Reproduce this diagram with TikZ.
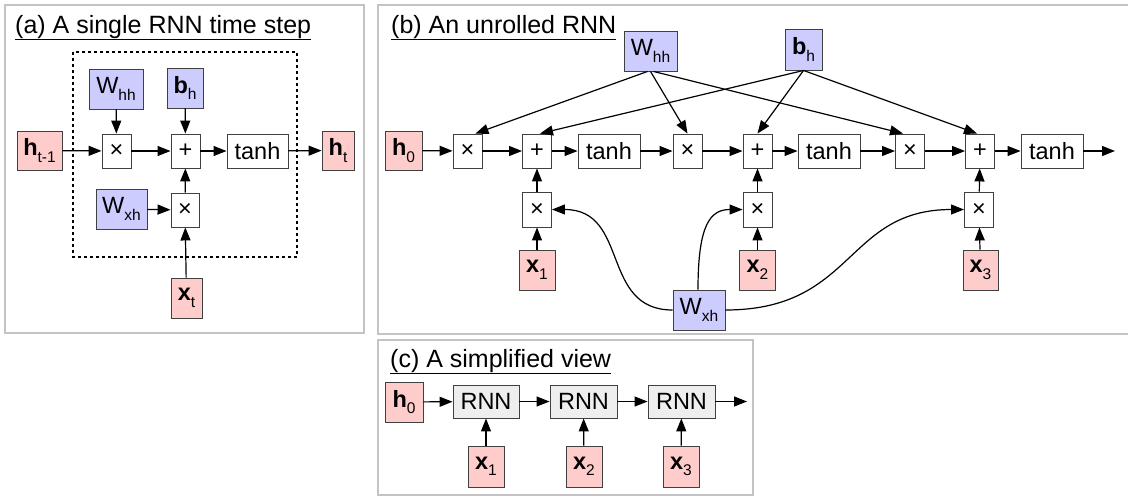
\documentclass[tikz,border=0pt]{standalone}
\usepackage{fontspec}
\setmainfont{Liberation Sans}
\usetikzlibrary{arrows.meta}
\definecolor{pinkf}{HTML}{FFCCCC}
\definecolor{bluef}{HTML}{CCCCFF}
\definecolor{grayf}{HTML}{EEEEEE}
\definecolor{panelc}{HTML}{C4C4C4}
\newcommand{\sbx}[1]{\raisebox{-6.5pt}{\fontsize{15.5}{15.5}\selectfont #1}}
\tikzset{
  bx/.style={draw=black!75, line width=0.9pt, inner sep=0pt, font=\fontsize{23.5}{23.5}\selectfont},
  opbox/.style={bx, fill=white, minimum width=29pt, minimum height=34pt},
  tanhbox/.style={bx, fill=white, minimum width=62pt, minimum height=34pt},
  inbox/.style={bx, fill=pinkf, minimum height=40pt},
  wbox/.style={bx, fill=bluef, minimum height=40pt},
  rnnbox/.style={bx, fill=grayf, minimum width=66pt, minimum height=33pt},
  conn/.style={draw=black, line width=1.2pt, -{Triangle[length=13pt,width=10pt]}},
  panel/.style={draw=panelc, line width=1.2pt},
  ttl/.style={anchor=base west, inner sep=0pt, font=\fontsize{25}{25}\selectfont}
}
\begin{document}
\begin{tikzpicture}[x=1pt,y=-1pt]
\useasboundingbox (0,0) rectangle (1128,496);
% panels
\draw[panel] (5,5) rectangle (364,333);
\draw[panel] (1130,5) -- (378,5) -- (378,334) -- (1130,334);
\draw[panel] (378,340) rectangle (753,495);
\node[ttl] (ta) at (15,33) {\underline{(a) A single RNN time step}};
\node[ttl] (tb) at (391,33) {\underline{(b) An unrolled RNN}};
\node[ttl] (tc) at (390,367) {\underline{(c) A simplified view}};

% ---------- panel a ----------
\draw[dashed, line width=1.1pt] (73,52) rectangle (297,257);
\node[wbox, minimum width=54pt] (Whha) at (116,89) {W\sbx{hh}};
\node[wbox, minimum width=36pt] (bha) at (185,88) {\textbf{b}\sbx{h}};
\node[inbox, minimum width=45pt, minimum height=39pt] (htm) at (39.5,150.5) {\textbf{h}\sbx{t-1}};
\node[opbox] (m1a) at (116.5,151) {×};
\node[opbox] (pa) at (185.5,151) {+};
\node[tanhbox, minimum width=61pt] (tha) at (257.5,151) {tanh};
\node[inbox, minimum width=32pt, minimum height=39pt] (hta) at (338,150.5) {\textbf{h}\sbx{t}};
\node[wbox, minimum width=51pt] (Wxha) at (121.5,209) {W\sbx{xh}};
\node[opbox, minimum width=28pt] (m2a) at (185,210) {×};
\node[inbox, minimum width=31pt] (xta) at (186.5,298) {\textbf{x}\sbx{t}};
\draw[conn] (htm) -- (m1a);
\draw[conn] (Whha) -- (m1a);
\draw[conn] (m1a) -- (pa);
\draw[conn] (bha) -- (pa);
\draw[conn] (pa) -- (tha);
\draw[conn] (tha) -- (hta);
\draw[conn] (Wxha) -- (m2a);
\draw[conn] (m2a) -- (pa);
\draw[conn] (xta) -- (m2a);

% ---------- panel b ----------
\node[wbox, minimum width=53pt] (Whhb) at (650.5,51) {W\sbx{hh}};
\node[wbox, minimum width=37pt, minimum height=41pt] (bhb) at (803.5,49.5) {\textbf{b}\sbx{h}};
\node[inbox, minimum width=37pt, minimum height=39pt] (h0b) at (403.5,150.5) {\textbf{h}\sbx{0}};
\node[opbox] (m1b) at (467.5,151) {×};
\node[opbox] (p1b) at (537,151) {+};
\node[tanhbox] (t1b) at (609,151) {tanh};
\node[opbox] (m2b) at (687.5,151) {×};
\node[opbox] (p2b) at (757.5,151) {+};
\node[tanhbox] (t2b) at (829,151) {tanh};
\node[opbox] (m3b) at (910,151) {×};
\node[opbox] (p3b) at (980,151) {+};
\node[tanhbox] (t3b) at (1052,151) {tanh};
\coordinate (endb) at (1115,151);
\node[opbox, minimum height=35pt] (q1b) at (537,209.5) {×};
\node[opbox, minimum height=35pt] (q2b) at (757.5,209.5) {×};
\node[opbox, minimum height=35pt] (q3b) at (979,209.5) {×};
\node[inbox, minimum width=36pt] (x1b) at (537,270) {\textbf{x}\sbx{1}};
\node[inbox, minimum width=36pt] (x2b) at (757.5,270) {\textbf{x}\sbx{2}};
\node[inbox, minimum width=35pt] (x3b) at (980.5,270) {\textbf{x}\sbx{3}};
\node[wbox, minimum width=52pt] (Wxhb) at (699,310) {W\sbx{xh}};

\draw[conn] (h0b) -- (m1b);
\draw[conn] (m1b) -- (p1b);
\draw[conn] (p1b) -- (t1b);
\draw[conn] (t1b) -- (m2b);
\draw[conn] (m2b) -- (p2b);
\draw[conn] (p2b) -- (t2b);
\draw[conn] (t2b) -- (m3b);
\draw[conn] (m3b) -- (p3b);
\draw[conn] (p3b) -- (t3b);
\draw[conn] (t3b) -- (endb);
\draw[conn] (q1b) -- (p1b);
\draw[conn] (q2b) -- (p2b);
\draw[conn] (q3b) -- (p3b);
\draw[conn] (x1b) -- (q1b);
\draw[conn] (x2b) -- (q2b);
\draw[conn] (x3b) -- (q3b);
\draw[conn] ([xshift=-3pt]Whhb.south) -- ([xshift=-7pt]m1b.north east);
\draw[conn] (Whhb.south) -- (m2b.north);
\draw[conn] ([xshift=3pt]Whhb.south) -- ([xshift=-7pt]m3b.north);
\draw[conn] (bhb.south) -- ([xshift=3pt]p1b.north);
\draw[conn] (bhb.south) -- (p2b.north);
\draw[conn] (bhb.south) -- ([xshift=-3pt]p3b.north);
\draw[conn] (Wxhb.west) .. controls (600,310) and (630,209.5) .. (q1b.east);
\draw[conn] ([xshift=-1pt]Wxhb.north) .. controls (698,225) and (710,209.5) .. (q2b.west);
\draw[conn] (Wxhb.east) .. controls (855,310) and (845,209.5) .. (q3b.west);

% ---------- panel c ----------
\node[inbox, minimum width=38pt] (h0c) at (404,402) {\textbf{h}\sbx{0}};
\node[rnnbox] (r1) at (486,401.5) {RNN};
\node[rnnbox, minimum width=67pt] (r2) at (583.5,401.5) {RNN};
\node[rnnbox, minimum width=67pt] (r3) at (681.5,401.5) {RNN};
\coordinate (endc) at (747,401.5);
\node[inbox, minimum width=36pt, minimum height=41pt] (x1c) at (486,466.5) {\textbf{x}\sbx{1}};
\node[inbox, minimum width=36pt, minimum height=41pt] (x2c) at (584,466.5) {\textbf{x}\sbx{2}};
\node[inbox, minimum width=36pt, minimum height=41pt] (x3c) at (681,466.5) {\textbf{x}\sbx{3}};
\draw[conn] (h0c) -- (r1);
\draw[conn] (r1) -- (r2);
\draw[conn] (r2) -- (r3);
\draw[conn] (r3) -- (endc);
\draw[conn] (x1c) -- (r1);
\draw[conn] (x2c) -- (r2);
\draw[conn] (x3c) -- (r3);
\end{tikzpicture}
\end{document}
